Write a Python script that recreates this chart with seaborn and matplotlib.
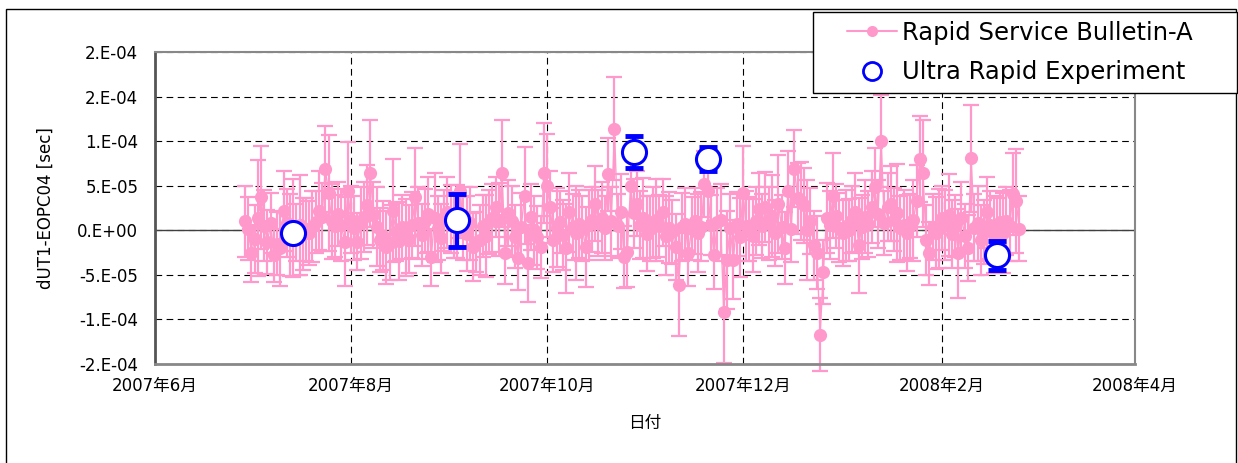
import numpy as np
import pandas as pd
import matplotlib
matplotlib.use("Agg")
import matplotlib.pyplot as plt
from matplotlib.lines import Line2D
from matplotlib.patches import Rectangle
import seaborn as sns

# Rapid Service Bulletin-A, daily from 2007-06-29, values in 1e-5 sec
rsb_start = "2007-06-29"
rsb_vals = [
    1.0, 0.2, -2.6, -1.0, 1.4, 3.7, 0.5, -1.3, 0.8, -2.8,
    -1.5, -2.0, 2.2, 0.8, -0.5, 0.3, -0.2, 0.6, -0.4, 0.1,
    -0.3, 0.4, 0.9, 2.2, 1.5, 6.9, 4.2, 1.0, 0.5, 1.8,
    0.6, -1.3, 4.4, 1.2, 0.3, -1.3, 0.8, 1.5, 2.8, 6.4,
    1.7, 0.4, -1.1, -0.6, -1.9, -1.4, 2.2, -0.2, -1.2, 0.4,
    -0.8, -1.0, 0.6, 3.7, 0.8, -0.5, 1.0, 1.8, -3.0, 1.4,
    0.3, -0.9, 1.1, 2.0, 1.3, 0.6, 1.0, 4.4, 0.2, -0.4,
    0.8, -1.9, -1.3, -1.1, 0.5, -0.6, 0.9, 1.4, 2.6, 1.2,
    6.4, -2.6, 1.9, 1.0, -0.7, -3.1, 0.4, 3.9, -3.7, 1.5,
    0.0, -0.8, -1.9, 6.4, 5.0, 2.6, -1.1, 0.3, 0.9, -0.5,
    -2.0, 2.0, 0.4, -0.3, 0.7, 0.2, -1.9, 0.6, 1.2, 3.0,
    0.8, 1.4, 0.3, 6.3, 1.0, 11.4, 0.5, 2.1, -3.0, -2.4,
    5.0, 1.9, 3.0, 0.6, 1.4, -0.4, 0.2, 0.9, 1.1, 0.5,
    2.0, -0.6, 0.3, -0.2, -1.9, -6.1, 0.4, 0.7, -2.6, 0.2,
    1.0, -0.3, 0.4, 5.2, 4.4, 0.6, -2.8, 0.9, 1.2, -9.2,
    -3.3, 0.3, -3.3, 0.7, -0.8, 4.2, 0.5, 0.1, -0.6, 1.0,
    2.4, 0.5, 2.6, 0.8, 1.6, -0.3, 3.0, 0.4, -2.0, 4.4,
    0.2, 6.9, 3.6, 3.3, 2.8, 0.0, 1.0, -1.7, -2.5, -11.7,
    -4.7, 1.4, 0.6, 3.9, 1.6, 0.3, -0.3, 0.5, 0.0, 1.2,
    2.0, -1.7, 0.4, 1.5, 0.7, 2.6, 4.8, 1.8, 10.0, 0.8,
    2.6, 3.0, 1.2, 1.9, 0.3, 0.6, -0.3, 0.5, 1.1, 3.3,
    8.0, 6.4, -1.1, -2.6, 0.4, -0.3, 0.2, 1.4, 0.6, 1.7,
    -0.4, 0.5, -2.6, 1.4, -0.6, -2.0, 8.1, 0.3, 0.8, -1.1,
    -0.2, 2.0, 0.6, -0.5, 0.0, 0.9, -0.3, 1.0, 0.5, 4.1,
    3.3, 0.2,
]
rsb_errs = [
    4.0, 3.5, 3.2, 3.8, 6.5, 5.8, 4.0, 3.6, 3.4, 3.0,
    3.5, 4.2, 4.5, 3.8, 4.6, 5.5, 3.2, 5.6, 4.0, 3.5,
    3.6, 4.0, 3.5, 4.4, 3.8, 4.8, 6.5, 4.2, 3.5, 3.6,
    4.0, 5.0, 5.5, 3.8, 3.6, 3.2, 4.0, 3.9, 4.5, 6.0,
    3.7, 4.4, 3.6, 3.9, 4.1, 4.2, 5.8, 3.3, 4.4, 3.6,
    4.3, 3.8, 3.7, 5.5, 4.0, 3.5, 3.6, 4.2, 3.2, 5.0,
    3.6, 3.9, 3.4, 4.0, 3.8, 3.7, 4.1, 5.3, 3.5, 4.2,
    4.1, 3.8, 3.4, 3.9, 3.5, 4.6, 3.6, 3.8, 3.4, 4.1,
    6.0, 3.4, 3.7, 4.0, 3.5, 3.6, 3.8, 5.4, 4.3, 3.7,
    3.9, 3.5, 3.5, 5.6, 5.8, 4.0, 3.6, 4.4, 3.5, 3.9,
    5.0, 4.4, 3.7, 5.3, 3.8, 3.6, 4.5, 3.9, 3.6, 4.2,
    3.7, 4.0, 3.6, 4.1, 3.9, 5.8, 3.6, 4.2, 3.5, 4.0,
    3.2, 3.9, 3.6, 3.8, 4.5, 4.2, 3.7, 4.0, 4.6, 3.5,
    3.8, 4.4, 4.0, 3.6, 3.7, 5.8, 3.8, 4.0, 3.6, 3.5,
    3.7, 4.4, 3.9, 3.7, 3.6, 3.4, 3.8, 3.8, 4.0, 5.7,
    5.5, 3.8, 4.4, 3.6, 4.4, 5.3, 3.9, 3.6, 4.1, 3.8,
    4.0, 3.6, 3.9, 4.1, 4.6, 3.7, 5.5, 3.6, 4.0, 4.5,
    3.8, 4.3, 4.0, 4.4, 4.2, 5.6, 3.7, 3.9, 4.1, 4.1,
    3.6, 3.9, 3.8, 4.8, 3.6, 3.9, 3.7, 4.0, 3.5, 3.8,
    4.4, 5.3, 3.6, 4.1, 3.7, 4.0, 4.4, 3.8, 5.2, 3.6,
    3.8, 4.2, 3.5, 5.5, 3.6, 3.9, 4.3, 3.6, 4.5, 4.0,
    4.8, 6.0, 3.9, 3.5, 3.7, 4.0, 4.4, 3.6, 3.9, 4.6,
    3.8, 3.5, 5.0, 4.0, 3.6, 3.7, 6.0, 3.8, 4.2, 3.9,
    3.6, 4.0, 3.8, 4.3, 3.6, 3.5, 4.5, 3.8, 4.0, 4.6,
    5.8, 3.7,
]

# Ultra Rapid Experiment (1e-5 sec)
ure_dates = ["2007-07-14", "2007-09-03", "2007-10-28", "2007-11-20", "2008-02-18"]
ure_vals = [-0.3, 1.1, 8.8, 8.0, -2.8]
ure_errs = [0.2, 3.0, 1.8, 1.3, 1.6]

xtick_dates = ["2007-06-01", "2007-08-01", "2007-10-01", "2007-12-01", "2008-02-01", "2008-04-01"]
ytick_vals = [-1.5e-4, -1e-4, -5e-5, 0.0, 5e-5, 1e-4, 1.5e-4, 2e-4]
ytick_labels = ["-2.E-04", "-1.E-04", "-5.E-05", "0.E+00", "5.E-05", "1.E-04", "2.E-04", "2.E-04"]

PINK = "#FF99CC"
BLUE = "#0000FF"

sns.set_style("white")
plt.rcParams["font.family"] = ["DejaVu Sans", "Noto Sans CJK JP"]
plt.rcParams.update({"text.color": "black", "axes.labelcolor": "black",
                     "xtick.color": "black", "ytick.color": "black"})

rsb = pd.DataFrame({
    "date": pd.date_range(rsb_start, periods=len(rsb_vals), freq="D"),
    "val": np.array(rsb_vals) * 1e-5,
    "err": np.array(rsb_errs) * 1e-5,
})
ure = pd.DataFrame({
    "date": pd.to_datetime(ure_dates),
    "val": np.array(ure_vals) * 1e-5,
    "err": np.array(ure_errs) * 1e-5,
})

W, H = 1238, 463
fig = plt.figure(figsize=(W / 100, H / 100), dpi=100)
ax = fig.add_axes([155 / W, 1 - 364 / H, (1135 - 155) / W, (364 - 52) / H])

# pink series
ax.errorbar(rsb["date"], rsb["val"], yerr=rsb["err"], fmt="none", ecolor=PINK,
            elinewidth=1.6, capsize=5.5, capthick=1.6, zorder=2, clip_on=False)
sns.lineplot(data=rsb, x="date", y="val", color=PINK, linewidth=1.0, marker="o",
             markersize=9.5, markeredgewidth=0, ax=ax, zorder=3)

# blue series
ax.errorbar(ure["date"], ure["val"], yerr=ure["err"], fmt="none", ecolor=BLUE,
            elinewidth=3, capsize=6.5, capthick=3.5, zorder=4)
sns.scatterplot(data=ure, x="date", y="val", s=300, facecolor="white",
                edgecolor=BLUE, linewidth=2.2, ax=ax, zorder=5)

ax.set_xlim(pd.Timestamp(xtick_dates[0]), pd.Timestamp(xtick_dates[-1]))
ax.set_ylim(-1.5e-4, 2e-4)
xt = pd.to_datetime(xtick_dates)
ax.set_xticks(xt)
ax.set_xticklabels([f"{d.year}年{d.month}月" for d in xt], fontsize=12)
ax.set_yticks(ytick_vals)
ax.set_yticklabels(ytick_labels, fontsize=12)
ax.tick_params(axis="y", length=0, pad=12)
ax.tick_params(axis="x", length=0, pad=9)

ax.grid(True, color="black", linestyle=(0, (6, 4)), linewidth=0.8)
ax.set_axisbelow(True)
ax.axhline(0, color="#404040", linewidth=1.0, zorder=1)

ax.set_xlabel("日付", fontsize=12, labelpad=14)
ax.set_ylabel("dUT1-EOPC04 [sec]", fontsize=12, labelpad=16)

for side in ["top", "right"]:
    ax.spines[side].set_color("#888888")
    ax.spines[side].set_linewidth(1.5)
ax.spines["left"].set_color("#555555")
ax.spines["left"].set_linewidth(2)
ax.spines["bottom"].set_color("#888888")
ax.spines["bottom"].set_linewidth(2)

# outer chart frame
fig.patches.append(Rectangle((6 / W, -0.05), (1236 - 6) / W, 1.05 - 9 / H,
                             transform=fig.transFigure, fill=False,
                             edgecolor="black", linewidth=1))

# legend box (drawn separately so the entries can sit inset like the original)
fig.patches.append(Rectangle((813 / W, 1 - 93 / H), (1237 - 813) / W, (93 - 12) / H,
                             transform=fig.transFigure, facecolor="white",
                             edgecolor="black", linewidth=1, zorder=10))
handles = [
    Line2D([], [], color=PINK, linewidth=1.5, marker="o", markersize=8, markeredgewidth=0),
    Line2D([], [], color=BLUE, linestyle="none", marker="o", markersize=13,
           markerfacecolor="white", markeredgewidth=2),
]
leg = fig.legend(handles, ["Rapid Service Bulletin-A", "Ultra Rapid Experiment"],
                 loc="upper left", bbox_to_anchor=(847 / W, 1 - 21 / H),
                 bbox_transform=fig.transFigure, fontsize=17.5, frameon=False,
                 handlelength=2.05, labelspacing=0.62, borderpad=0,
                 handletextpad=0.2, borderaxespad=0)
leg.set_zorder(11)

fig.savefig("out.png", dpi=100)
